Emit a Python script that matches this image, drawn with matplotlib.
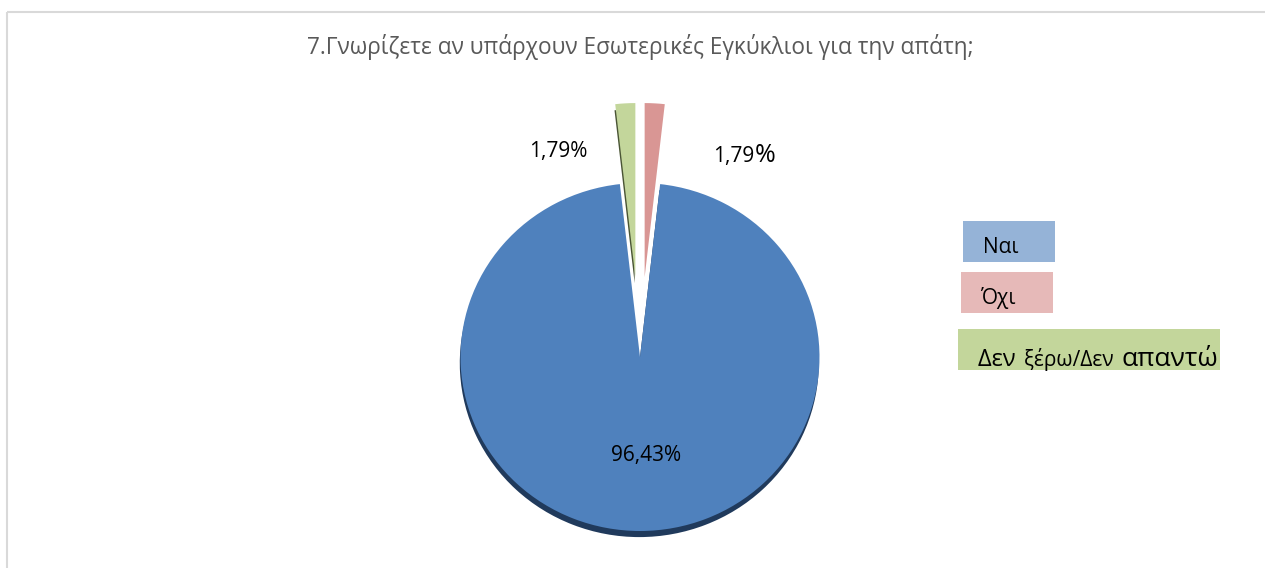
import matplotlib
matplotlib.use("Agg")
import matplotlib.pyplot as plt
from matplotlib.patches import Rectangle

plt.rcParams['font.family'] = ['Open Sans', 'DejaVu Sans']

# ---- data ----
title = "7.Γνωρίζετε αν υπάρχουν Εσωτερικές Εγκύκλιοι για την απάτη;"
categories = ["Ναι", "Όχι", "Δεν ξέρω/Δεν απαντώ"]
values = [96.43, 1.79, 1.79]
slice_colors = ["#4F81BD", "#D99694", "#C3D69B"]
legend_colors = ["#95B3D7", "#E6B9B8", "#C3D69B"]

W, H = 1265, 568
fig = plt.figure(figsize=(W / 100, H / 100), dpi=100)
fig.patch.set_facecolor("white")

# ---- pie axes (elliptical, mapped to pixel box) ----
cx, cy, rx, ry = 640.0, 357.0, 179.5, 174.0
x0, x1, y0, y1 = -1.6, 1.6, -1.2, 1.6
left = cx + x0 * rx
width = (x1 - x0) * rx
top = cy - y1 * ry
bottom = cy - y0 * ry
ax = fig.add_axes([left / W, (H - bottom) / H, width / W, (bottom - top) / H])
start = 90 + 360 * values[2] / sum(values)
explode = [0, 0.46, 0.46]
# 3D-like dark rim under the slices
ax.pie(values, colors=["#203A5C", "none", "#4A5535"], startangle=start,
       counterclock=True, explode=explode, center=(-0.004, -0.035),
       wedgeprops=dict(linewidth=0))
ax.pie(values, colors=slice_colors, startangle=start, counterclock=True,
       explode=explode, wedgeprops=dict(linewidth=0))
ax.set_aspect("auto")
ax.set_xlim(x0, x1)
ax.set_ylim(y0, y1)
ax.axis("off")

# background / annotation axes in pixel coordinates (y down), on top
bg = fig.add_axes([0, 0, 1, 1])
bg.set_zorder(3)
bg.patch.set_visible(False)
bg.set_xlim(0, W)
bg.set_ylim(H, 0)
bg.axis("off")
bg.add_patch(Rectangle((6.5, 11.5), 1280, 600, fill=False,
                       edgecolor="#D9D9D9", lw=1.5))

bg.text(640, 47, title, ha="center", va="center", fontsize=16.3,
        color="#595959")

fig.canvas.draw()
renderer = fig.canvas.get_renderer()


def seq_text(x, y, parts, gap=0.0, **kw):
    """Place text parts one after another on a shared baseline."""
    for s, size in parts:
        t = bg.text(x, y, s, ha="left", va="baseline", fontsize=size, **kw)
        bb = t.get_window_extent(renderer)
        x += bb.width + gap


def fmt(v):
    return f"{v:.2f}".replace(".", ",")


# data labels
seq_text(529, 157, [(fmt(values[2]) + "%", 15)], color="black")
seq_text(713, 162, [(fmt(values[1]), 15), ("%", 18)], color="black")
seq_text(611, 461, [(fmt(values[0]) + "%", 15)], color="black")

# legend boxes
boxes = [(963, 221, 92, 41), (961, 272, 92, 41), (958, 329, 262, 41)]
for (bx, by, bw, bh), c in zip(boxes, legend_colors):
    bg.add_patch(Rectangle((bx, by), bw, bh, facecolor=c, edgecolor="none"))

bg.text(983, 253, categories[0], ha="left", va="baseline", fontsize=15,
        color="black")
bg.text(980, 304, categories[1], ha="left", va="baseline", fontsize=15,
        color="black")
w1, w2 = categories[2].split("/")
a, b = w1.split(" ", 1)
c_, d = w2.split(" ", 1)
seq_text(978, 366, [(a + " ", 17), (b + "/" + c_ + " ", 15), (d, 19)],
         gap=2.5, color="black")

fig.savefig("out.png", dpi=100, facecolor="white")
